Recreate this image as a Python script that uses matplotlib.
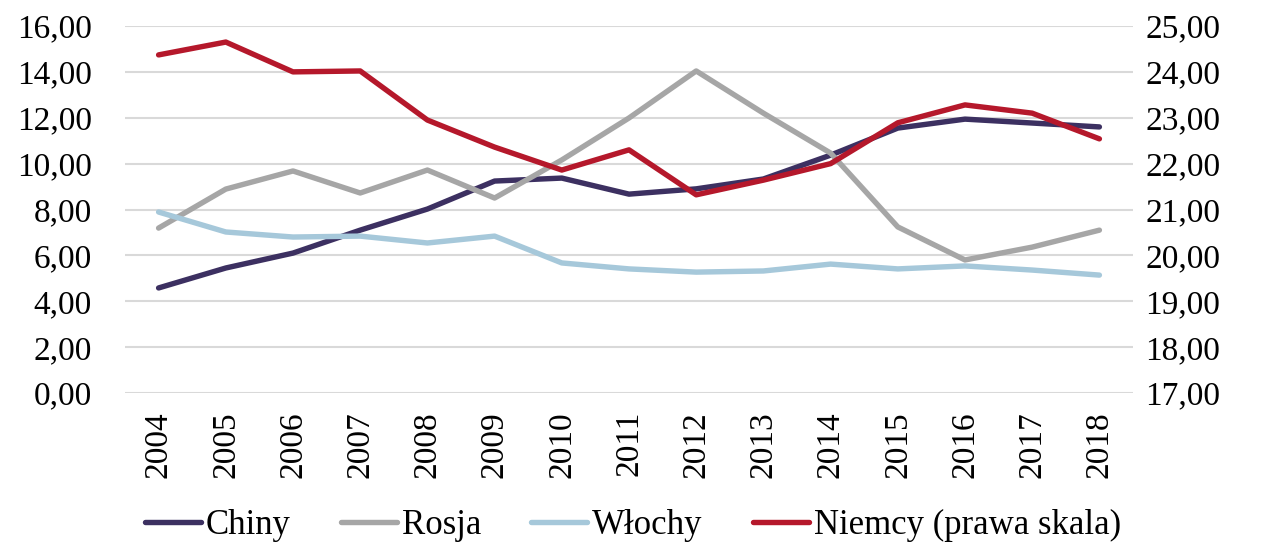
import matplotlib
matplotlib.use("Agg")
import matplotlib.pyplot as plt
from matplotlib.ticker import FuncFormatter, MultipleLocator

plt.rcParams['font.family'] = ['Liberation Serif', 'DejaVu Serif']

years = [str(y) for y in range(2004, 2019)]
chiny = [4.58, 5.45, 6.10, 7.10, 8.02, 9.24, 9.37, 8.67, 8.90, 9.33, 10.37, 11.55, 11.94, 11.77, 11.60]
rosja = [7.19, 8.89, 9.68, 8.72, 9.72, 8.50, 10.16, 11.99, 14.04, 12.20, 10.46, 7.24, 5.80, 6.36, 7.10]
wlochy = [7.89, 7.02, 6.80, 6.84, 6.54, 6.84, 5.67, 5.41, 5.27, 5.32, 5.62, 5.41, 5.54, 5.36, 5.14]
niemcy = [24.37, 24.65, 24.00, 24.02, 22.95, 22.36, 21.86, 22.30, 21.32, 21.64, 22.00, 22.89, 23.28, 23.10, 22.54]

labels = ['Chiny', 'Rosja', 'Włochy', 'Niemcy (prawa skala)']
colors = ['#3c3061', '#a6a6a6', '#a6c8da', '#b5182b']

fig = plt.figure(figsize=(12.66, 5.42), dpi=100)
ax = fig.add_axes([125/1266, 1-393/542, (1133-125)/1266, (393-26)/542])
ax2 = ax.twinx()

x = list(range(len(years)))
lw = 3.9
h1, = ax.plot(x, chiny, color=colors[0], lw=lw, solid_capstyle='round', label=labels[0])
h2, = ax.plot(x, rosja, color=colors[1], lw=lw, solid_capstyle='round', label=labels[1])
h3, = ax.plot(x, wlochy, color=colors[2], lw=lw, solid_capstyle='round', label=labels[2])
h4, = ax2.plot(x, niemcy, color=colors[3], lw=lw, solid_capstyle='round', label=labels[3])

ax.set_xlim(-0.5, len(years) - 0.5)
ax.set_ylim(0, 16)
ax2.set_ylim(17, 25)
ax.yaxis.set_major_locator(MultipleLocator(2))
ax2.yaxis.set_major_locator(MultipleLocator(1))
fmt = FuncFormatter(lambda v, p: f"{v:.2f}".replace('.', ','))
ax.yaxis.set_major_formatter(fmt)
ax2.yaxis.set_major_formatter(fmt)

ax.set_xticks(x)
ax.set_xticklabels(years, rotation=90)

ax.grid(axis='y', color='#d9d9d9', lw=1.5)
ax.set_axisbelow(True)
for a in (ax, ax2):
    for s in a.spines.values():
        s.set_visible(False)
ax.tick_params(axis='y', length=0, pad=24, labelsize=24)
ax.tick_params(axis='x', length=0, pad=13, labelsize=24)
ax2.tick_params(axis='y', length=0, pad=9, labelsize=24)

fig.legend([h1, h2, h3, h4], labels, loc='center', bbox_to_anchor=(0.5, 0.03),
           ncol=4, frameon=False, fontsize=25, handlelength=1.6, handletextpad=0.15,
           columnspacing=1.45, borderaxespad=0, borderpad=0)

fig.savefig('out.png', dpi=100)
